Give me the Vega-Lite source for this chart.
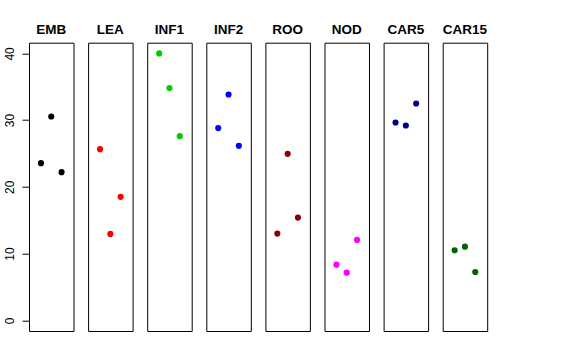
{
  "$schema": "https://vega.github.io/schema/vega-lite/v6.json",
  "padding": {"left": 3, "top": 22.7, "right": 5, "bottom": 5},
  "background": "white",
  "bounds": "flush",
  "config": {
    "font": "Liberation Sans",
    "view": {"stroke": "black", "strokeWidth": 1}
  },
  "data": {
    "values": [
      {"tissue": "EMB", "rep": 1, "value": 23.55},
      {"tissue": "EMB", "rep": 2, "value": 30.54},
      {"tissue": "EMB", "rep": 3, "value": 22.2},
      {"tissue": "LEA", "rep": 1, "value": 25.65},
      {"tissue": "LEA", "rep": 2, "value": 12.95},
      {"tissue": "LEA", "rep": 3, "value": 18.5},
      {"tissue": "INF1", "rep": 1, "value": 40.0},
      {"tissue": "INF1", "rep": 2, "value": 34.8},
      {"tissue": "INF1", "rep": 3, "value": 27.6},
      {"tissue": "INF2", "rep": 1, "value": 28.8},
      {"tissue": "INF2", "rep": 2, "value": 33.84},
      {"tissue": "INF2", "rep": 3, "value": 26.15},
      {"tissue": "ROO", "rep": 1, "value": 12.99},
      {"tissue": "ROO", "rep": 2, "value": 24.95},
      {"tissue": "ROO", "rep": 3, "value": 15.39},
      {"tissue": "NOD", "rep": 1, "value": 8.34},
      {"tissue": "NOD", "rep": 2, "value": 7.14},
      {"tissue": "NOD", "rep": 3, "value": 12.05},
      {"tissue": "CAR5", "rep": 1, "value": 29.64},
      {"tissue": "CAR5", "rep": 2, "value": 29.19},
      {"tissue": "CAR5", "rep": 3, "value": 32.49},
      {"tissue": "CAR15", "rep": 1, "value": 10.5},
      {"tissue": "CAR15", "rep": 2, "value": 11.04},
      {"tissue": "CAR15", "rep": 3, "value": 7.24}
    ]
  },
  "facet": {
    "column": {
      "field": "tissue",
      "type": "nominal",
      "sort": ["EMB", "LEA", "INF1", "INF2", "ROO", "NOD", "CAR5", "CAR15"],
      "header": {
        "title": null,
        "labelFontWeight": "bold",
        "labelFontSize": 13.5,
        "labelPadding": 6,
        "labelColor": "black"
      }
    }
  },
  "spacing": 14.1,
  "spec": {
    "width": 44.5,
    "height": 288.3,
    "mark": {"type": "point", "filled": true, "opacity": 1, "size": 38},
    "encoding": {
      "x": {
        "field": "rep",
        "type": "quantitative",
        "scale": {"domain": [-0.16, 4.16], "nice": false, "zero": false},
        "axis": null
      },
      "y": {
        "field": "value",
        "type": "quantitative",
        "title": null,
        "scale": {"domain": [-1.6, 41.6], "nice": false, "zero": false},
        "axis": {
          "values": [0, 10, 20, 30, 40],
          "grid": false,
          "domain": false,
          "tickSize": 7,
          "tickColor": "black",
          "labelAngle": 270,
          "labelAlign": "center",
          "labelBaseline": "bottom",
          "labelPadding": 6,
          "labelFontSize": 12,
          "labelColor": "black"
        }
      },
      "color": {
        "field": "tissue",
        "type": "nominal",
        "legend": null,
        "scale": {
          "domain": ["EMB", "LEA", "INF1", "INF2", "ROO", "NOD", "CAR5", "CAR15"],
          "range": ["#000000", "#FF0000", "#00CD00", "#0000FF", "#8B0000", "#FF00FF", "#00008B", "#006400"]
        }
      }
    }
  }
}
